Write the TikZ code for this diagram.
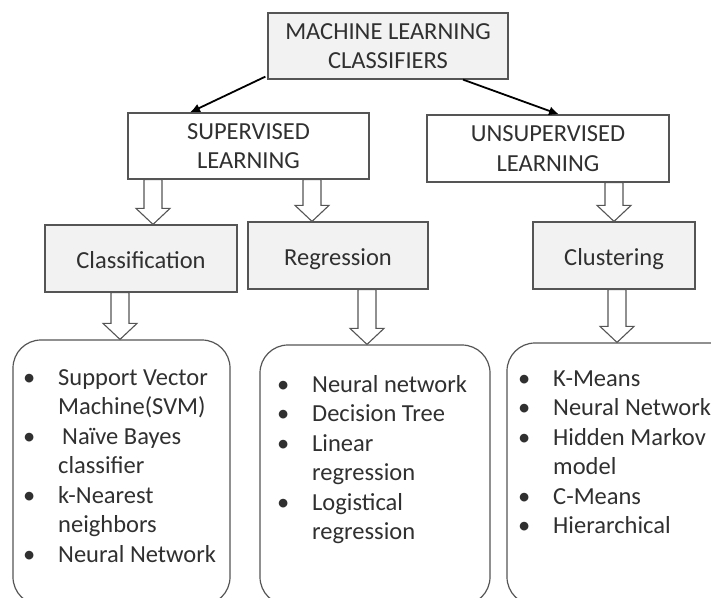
\documentclass[tikz,border=0pt]{standalone}
\usepackage{fontspec}
\setmainfont{Carlito}
\usetikzlibrary{arrows.meta,calc}

\definecolor{boxline}{HTML}{555555}
\definecolor{boxfill}{HTML}{F2F2F2}
\definecolor{txtgray}{HTML}{303030}

\tikzset{
  catbox/.style={draw=boxline, line width=1.2pt, fill=boxfill, minimum height=66pt, inner sep=0pt, align=center},
  taskbox/.style={catbox, minimum height=67pt, text height=22pt, text depth=3pt},
  typebox/.style={draw=boxline, line width=1.2pt, fill=white, minimum height=66pt, inner sep=0pt, align=center},
  algobox/.style={draw=boxline, line width=1.2pt, fill=white, rounded corners=28pt, inner sep=0pt},
  algotext/.style={inner sep=0pt, anchor=base west},
  blockarrow/.style={draw=boxline, line width=1.1pt, fill=white, line join=miter},
  mainarrow/.style={-{Latex[length=10pt,width=9pt]}, line width=1.8pt, black}
}

\begin{document}
\begin{tikzpicture}[x=1pt, y=-1pt, font=\fontsize{24.5pt}{29.5pt}\selectfont, text=txtgray]

\useasboundingbox (0,0) rectangle (711,597);

%%%%%%%%%%%%%%%%%%%% Top levels %%%%%%%%%%%%%%%%%%%%%%%%%%

\node[catbox, minimum width=240pt] (mlc) at (388,46) {MACHINE LEARNING\\CLASSIFIERS};

\node[typebox, minimum width=241pt] (sup) at (248.5,146) {SUPERVISED\\LEARNING};
\node[typebox, minimum width=242pt, minimum height=67pt] (unsup) at (548,148.5) {UNSUPERVISED\\LEARNING};

%tasks
\node[taskbox, minimum width=192pt] (cls) at (141,258.5) {Classification};
\node[taskbox, minimum width=180pt] (reg) at (338,255.5) {Regression};
\node[taskbox, minimum width=162pt] (clu) at (614,255.5) {Clustering};

%%%%%%%%%%%%%%%%%%%% Algorithm lists %%%%%%%%%%%%%%%%%%%%%%

\node[algobox, minimum width=217pt, minimum height=265pt] (lista) at (121.5,472.5) {};
\node[algobox, minimum width=230pt, minimum height=260pt] (listb) at (375,475) {};
\node[algobox, minimum width=233pt, minimum height=262pt] (listc) at (623.5,474) {};

\node[algotext] (texta) at (23,385) {\begin{tabular}[t]{@{}p{35pt}@{}l@{}}
\textbullet & Support Vector\\
 & Machine(SVM)\\
\textbullet & \hspace{4pt}Naïve Bayes\\
 & classifier\\
\textbullet & k-Nearest\\
 & neighbors\\
\textbullet & Neural Network
\end{tabular}};

\node[algotext] (textb) at (277,392) {\begin{tabular}[t]{@{}p{35pt}@{}l@{}}
\textbullet & Neural network\\
\textbullet & Decision Tree\\
\textbullet & Linear\\
 & regression\\
\textbullet & Logistical\\
 & regression
\end{tabular}};

\node[algotext] (textc) at (518,386) {\begin{tabular}[t]{@{}p{35pt}@{}l@{}}
\textbullet & K-Means\\
\textbullet & Neural Network\\
\textbullet & Hidden Markov\\
 & model\\
\textbullet & C-Means\\
\textbullet & Hierarchical
\end{tabular}};

%%%%%%%%%%%%%%%%%%%% Connectors %%%%%%%%%%%%%%%%%%%%%%%%%%%

%thin black arrows
\draw[mainarrow] ([shift={(-2,-3)}]mlc.south west) -- (190,0 |- sup.north);
\draw[mainarrow] (463,0 |- mlc.south) -- (559,0 |- unsup.north);

%block arrows
\foreach \from/\to/\ax in {sup/cls/153, sup/reg/312, unsup/clu/614, cls/lista/120, reg/listb/367, clu/listc/617}
{
    \draw[blockarrow] let \p1=(\ax,0 |- \from.south), \p2=(\ax,0 |- \to.north) in
        (\x1-9pt,\y1) -- (\x1-9pt,\y2+16pt) -- (\x1-17pt,\y2+16pt) -- (\x2,\y2)
        -- (\x1+17pt,\y2+16pt) -- (\x1+9pt,\y2+16pt) -- (\x1+9pt,\y1) -- cycle;
}

\end{tikzpicture}
\end{document}
